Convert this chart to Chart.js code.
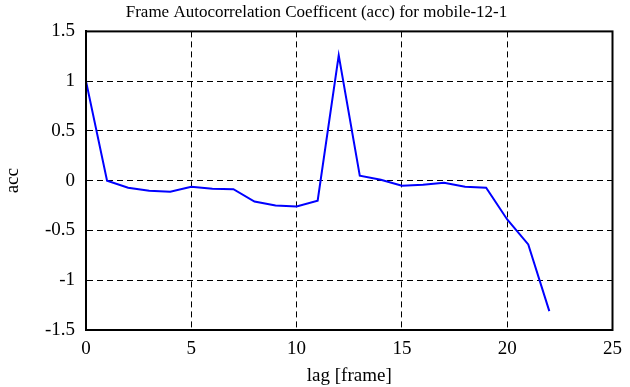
<!DOCTYPE html>
<html>
<head>
<meta charset="utf-8">
<script src="https://cdn.jsdelivr.net/npm/chart.js@4/dist/chart.umd.min.js"></script>
<style>
  html, body { margin: 0; padding: 0; background: #fff; }
  #wrap { width: 630px; height: 387px; }
</style>
</head>
<body>
<div id="wrap"><canvas id="acc"></canvas></div>
<script>
// lag in frames and the autocorrelation
let lags = [0, 1, 2, 3, 4, 5, 6, 7, 8, 9, 10, 11, 12, 13, 14, 15, 16, 17, 18, 19, 20, 21, 22];
let accValues = [1.0, 0.0, -0.07, -0.10, -0.11, -0.06, -0.08, -0.085, -0.21, -0.25, -0.26, -0.20,
                 1.26, 0.05, 0.01, -0.05, -0.04, -0.02, -0.06, -0.07, -0.39, -0.64, -1.31];
let xTicks = [0, 5, 10, 15, 20, 25];
let yTicks = [-1.5, -1, -0.5, 0, 0.5, 1, 1.5];

let serif = "'Liberation Serif', 'DejaVu Serif', serif";

// frame around the plot box (top + right side too)
let boxFrame = {
    id: 'boxFrame',
    afterDraw(chart) {
        let a = chart.chartArea, c = chart.ctx;
        c.save();
        c.strokeStyle = 'black';
        c.lineWidth = 2;
        c.strokeRect(a.left, a.top, a.right - a.left, a.bottom - a.top);
        c.restore();
    }
};

var ctx = document.getElementById('acc').getContext('2d');
var chart = new Chart(ctx, {
    type: 'line',
    data: {
        datasets: [{
            data: lags.map((l, i) => ({x: l, y: accValues[i]})),
            borderColor: '#0000ff',
            backgroundColor: 'transparent',
            borderWidth: 2,
            pointRadius: 0,
            tension: 0
        }]
    },
    options: {
        responsive: true,
        maintainAspectRatio: false,
        animation: false,
        layout: { padding: { left: 17, right: 14, top: 0, bottom: 0 } },
        plugins: {
            legend: { display: false },
            tooltip: { enabled: false },
            title: {
                display: true,
                text: 'Frame Autocorrelation Coefficent (acc) for mobile-12-1',
                color: 'black',
                font: { family: serif, size: 17, weight: 'normal' },
                padding: { top: 2, bottom: 9 }
            }
        },
        scales: {
            x: {
                type: 'linear',
                min: 0, max: 25,
                afterBuildTicks: s => { s.ticks = xTicks.map(v => ({value: v})); },
                afterFit: s => { s.height = 57; },
                grid: { color: 'black', lineWidth: 1, drawTicks: false },
                border: { display: true, color: 'black', width: 2, dash: [6, 4] },
                ticks: { color: 'black', padding: 8, maxRotation: 0, font: { family: serif, size: 19 },
                         callback: v => String(v) },
                title: {
                    display: true, text: 'lag [frame]', color: 'black', padding: { top: 0, bottom: 0 },
                    font: { family: serif, size: 19 }
                }
            },
            y: {
                min: -1.5, max: 1.5,
                afterBuildTicks: s => { s.ticks = yTicks.map(v => ({value: v})); },
                afterFit: s => { s.width = 69; },
                grid: { color: 'black', lineWidth: 1, drawTicks: false },
                border: { display: true, color: 'black', width: 2, dash: [6, 4] },
                ticks: { color: 'black', padding: 11, font: { family: serif, size: 19 },
                         callback: v => String(v) },
                title: {
                    display: true, text: 'acc', color: 'black', padding: { top: -15, bottom: 0 },
                    font: { family: serif, size: 19 }
                }
            }
        }
    },
    plugins: [boxFrame]
});
</script>
</body>
</html>
